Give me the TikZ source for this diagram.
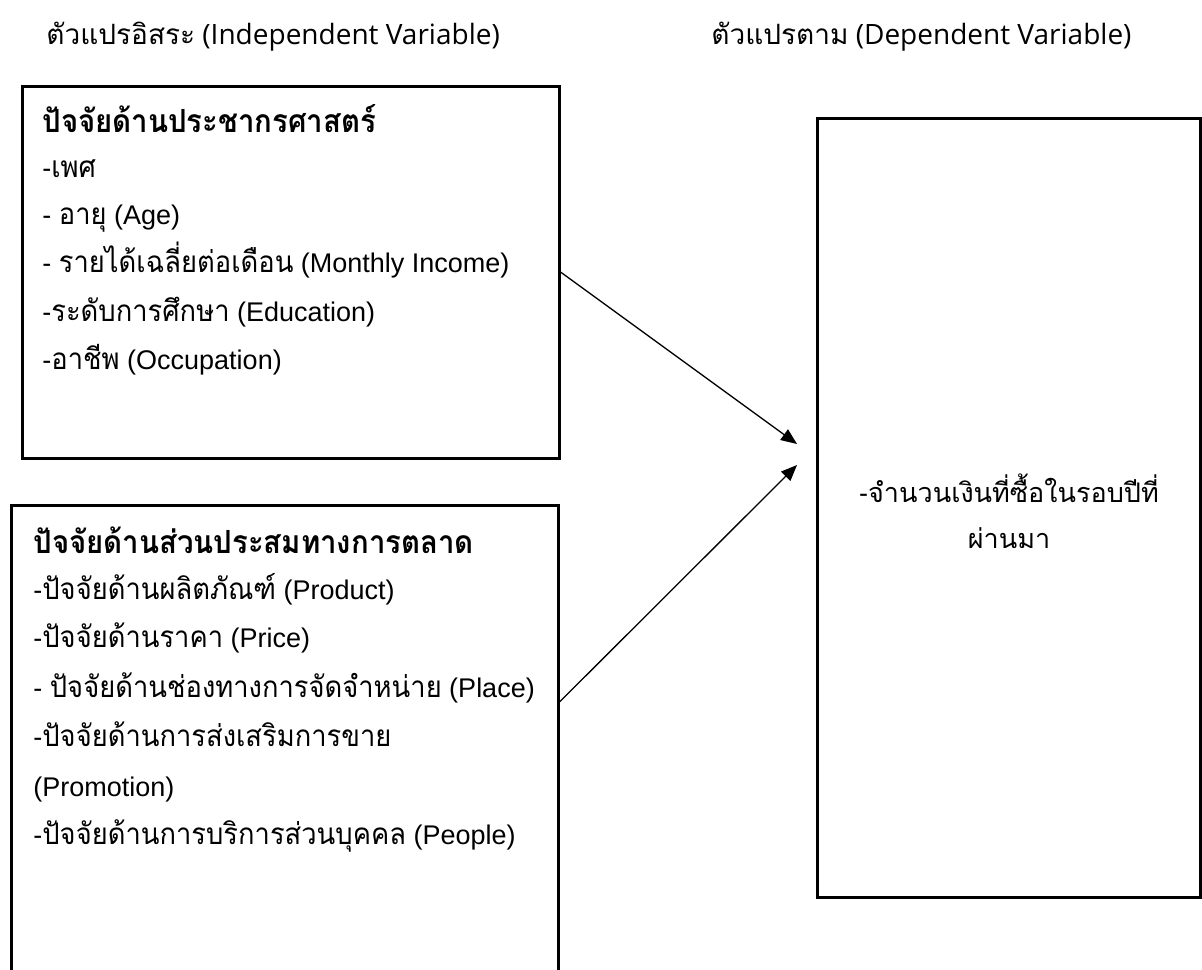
\documentclass[tikz,border=0pt]{standalone}
\usepackage{fontspec}
\setmainfont{Liberation Sans}
\newfontfamily\thaifont[Script=Thai,Scale=1.1,FakeStretch=0.92]{Loma}
\newfontfamily\headthai[Script=Thai]{Loma}
\newfontfamily\headfont{Open Sans}
\usetikzlibrary{arrows.meta,positioning}
\newcommand{\Tth}[1]{{\thaifont #1}}
\newcommand{\Hth}[1]{{\headthai #1}}
\tikzset{varbox/.style={draw=black,line width=1.5pt,rectangle,inner sep=0pt}}
\tikzset{item/.style={anchor=base west,inner sep=0pt,font=\fontsize{13.5}{16}\selectfont}}
\tikzset{title/.style={item,font=\fontsize{14.5}{17}\selectfont\bfseries}}
\tikzset{heading/.style={anchor=base west,inner sep=0pt,font=\headfont\fontsize{14}{17}\selectfont}}
\tikzset{link/.style={-{Triangle[length=8pt,width=6.5pt]},line width=0.65pt}}

\begin{document}
\begin{tikzpicture}[x=0.5pt,y=-0.5pt]
% \draw[help lines] (0,0) grid (1202,969);
\useasboundingbox (0,0) rectangle (1202,969);
\clip (0,0) rectangle (1202,969);
%
\node (hind) [heading] at (46,44) {\Hth{ตัวแปรอิสระ} (Independent Variable)};
\node (hdep) [heading] at (711,44) {\Hth{ตัวแปรตาม} (Dependent Variable)};
%
\node (demo) [varbox,minimum width=268.5pt,minimum height=186pt] at (290.5,272) {};
\node (mix) [varbox,minimum width=273.5pt,minimum height=252.5pt] at (284.5,757.5) {};
\node (dep) [varbox,minimum width=191.5pt,minimum height=389.5pt] at (1008.5,507.5) {};
%
\node (d0) [title] at (42,132) {\Tth{ปัจจัยด้านประชากรศาสตร์}};
\node (d1) [item] at (42,177) {-\Tth{เพศ}};
\node (d2) [item] at (42,224) {- \Tth{อายุ} (Age)};
\node (d3) [item] at (42,272) {- \Tth{รายได้เฉลี่ยต่อเดือน} (Monthly Income)};
\node (d4) [item] at (42,321) {-\Tth{ระดับการศึกษา} (Education)};
\node (d5) [item] at (42,369) {-\Tth{อาชีพ} (Occupation)};
%
\node (m0) [title] at (33,553) {\Tth{ปัจจัยด้านส่วนประสมทางการตลาด}};
\node (m1) [item] at (33,599) {-\Tth{ปัจจัยด้านผลิตภัณฑ์} (Product)};
\node (m2) [item] at (33,647) {-\Tth{ปัจจัยด้านราคา} (Price)};
\node (m3) [item] at (33,697) {- \Tth{ปัจจัยด้านช่องทางการจัดจำหน่าย} (Place)};
\node (m4) [item] at (33,746) {-\Tth{ปัจจัยด้านการส่งเสริมการขาย}};
\node (m5) [item] at (33,796) {(Promotion)};
\node (m6) [item] at (33,844) {-\Tth{ปัจจัยด้านการบริการส่วนบุคคล} (People)};
%
\node (r1) [item,anchor=base] at (1009,502) {-\Hth{จำนวนเงินที่ซื้อในรอบปีที่}};
\node (r2) [item,anchor=base] at (1009,548) {\Hth{ผ่านมา}};
%
\coordinate (t1) at (797,444);
\coordinate (t2) at (797,465);
\path[link] (demo.east |- d3.base) edge (t1);
\path[link] ([yshift=-2.5pt]mix.east |- m3.base) edge (t2);
\end{tikzpicture}
\end{document}
